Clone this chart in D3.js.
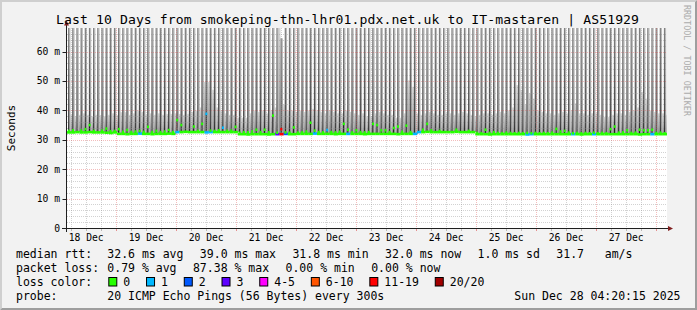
<!DOCTYPE html>
<html>
<head>
<meta charset="utf-8">
<script src="https://cdn.jsdelivr.net/npm/d3@7"></script>
<style>
  html, body { margin: 0; padding: 0; background: #f2f2f2; }
  svg { display: block; font-family: "DejaVu Sans Mono", monospace; }
</style>
</head>
<body>
<div id="chart"></div>
<script>
// ---- data (ms) ----
const title = "Last 10 Days from smokeping-thn-lhr01.pdx.net.uk to IT-mastaren | AS51929";
const dayLabels = ["18 Dec", "19 Dec", "20 Dec", "21 Dec", "22 Dec", "23 Dec", "24 Dec", "25 Dec", "26 Dec", "27 Dec"];
const yTicks = [0, 10, 20, 30, 40, 50, 60];

// one slot = 100 minutes, 144 slots over the 10 days
// median of the quiet samples (the green baseline)
const quietMed = [
  32.5, 32.5, 32.6, 32.5, 32.5, 32.6, 32.5, 32.5, 32.5, 32.4, 32.3, 32.5,
  32.0, 32.0, 31.9, 32.0, 32.0, 32.1, 32.0, 32.0, 31.9, 32.0, 32.0, 32.0, 32.1, 32.0,
  32.6, 32.6, 32.7, 32.6, 32.6, 32.6, 32.6, 32.5, 32.6, 32.6, 32.6, 32.6, 32.6, 32.6, 32.6,
  31.9, 31.9, 31.8, 31.9, 31.9, 31.9, 31.9, 31.8, 31.9, 31.9, 31.9, 32.0, 31.9, 31.9,
  32.0, 32.0, 32.0, 32.0, 32.1, 32.0, 32.0, 32.0, 32.0, 31.9, 32.0, 32.0, 32.0, 32.0, 32.0,
  32.0, 31.9, 32.0, 32.0, 32.0, 32.0, 32.0, 32.0, 32.0, 31.9, 32.0, 32.0, 32.0, 32.0,
  32.6, 32.6, 32.7, 32.6, 32.6, 32.6, 32.6, 32.6, 32.6, 32.7, 32.6, 32.6, 32.6, 32.6,
  31.9, 31.9, 31.9, 31.8, 31.9, 31.9, 31.9, 31.9, 31.9, 31.9, 31.9, 31.9, 31.8, 31.9, 31.9,
  31.9, 31.9, 31.9, 31.9, 31.9, 31.9, 31.9, 31.9, 31.9, 31.9, 31.8, 31.9, 31.9, 31.9, 31.9,
  31.9, 31.9, 31.9, 31.9, 31.9, 31.9, 31.9, 31.9, 31.9, 31.8, 31.9, 31.9, 31.9, 31.9, 31.9, 31.9
];
// upper edge of the light smoke of the quiet samples
const quietTop = [
  38.5, 38.0, 38.5, 39.0, 38.5, 38.0, 38.5, 38.4, 38.0, 38.5, 39.0, 38.4,
  39.4, 39.4, 38.5, 39.0, 40.0, 39.5, 38.5, 39.0, 38.5, 39.0, 38.5,
  38.8, 38.8, 39.0, 38.8, 38.5, 38.8, 39.5, 40.0, 41.0,
  49.7, 49.7, 47.0, 41.0, 40.0, 39.0, 38.5, 38.5, 37.5, 37.5, 37.5,
  39.0, 40.0, 39.5, 40.0, 39.0, 40.0, 41.0, 80.0, 42.0, 40.0, 40.0, 39.5,
  40.0, 39.5, 40.0, 40.5, 40.0, 39.5, 39.0, 40.0, 39.5, 39.0, 39.0, 40.0, 39.5, 39.0, 38.5, 39.0,
  38.0, 38.0, 39.0, 39.5, 39.0, 38.5, 38.5, 37.5, 37.5, 39.0, 50.2, 48.0,
  39.0, 38.5, 39.0, 39.5, 39.0, 38.5, 38.5, 39.0, 39.0, 38.5, 39.0, 39.5,
  39.0, 38.5, 38.0, 38.5, 39.0, 39.0, 38.5, 39.0, 39.5, 39.0, 40.0, 41.0,
  48.6, 47.0, 42.0, 45.8, 44.0,
  40.0, 39.5, 39.0, 39.0, 38.5, 39.0, 39.5, 39.0, 40.0, 42.4, 39.0,
  39.0, 38.5, 39.0, 39.0, 38.5, 37.8, 37.8,
  38.5, 39.0, 39.0, 38.5, 39.5, 40.0, 41.0, 46.3, 44.0,
  40.0, 39.5, 39.0, 39.0, 38.5
];
// median of the periodic spiky samples (green dots on the dark bars)
const spikeMed = [
  33.0, 33.2, 32.9, 33.1, 33.6, 35.0, 33.0, 32.8, 33.1, 33.8,
  32.9, 33.0, 33.6, 32.7, 33.3, 32.6, 32.8, 33.0, 32.7, 34.4,
  32.6, 33.0, 32.6, 32.8, 33.3, 32.6, 36.7, 35.0, 33.0, 32.9,
  34.5, 33.0, 35.4, 38.8, 33.1, 33.0, 33.2, 34.1, 33.0, 33.1,
  34.4, 32.4, 32.6, 32.5, 32.8, 33.4, 32.6, 33.4, 32.5, 38.2,
  32.4, 33.6, 32.5, 32.4, 34.2, 32.4, 32.5, 32.8, 35.8, 33.1,
  32.6, 32.5, 33.3, 32.6, 32.5, 32.7, 35.4, 33.4, 32.5, 33.2,
  32.6, 32.5, 32.6, 35.4, 35.0, 33.2, 33.2, 32.6, 34.0, 34.5,
  32.7, 34.8, 32.6, 32.2, 32.8, 33.4, 35.4, 33.2, 32.9, 33.0,
  32.9, 32.8, 32.9, 33.4, 32.8, 32.9, 33.0, 32.9, 32.3, 32.2,
  33.4, 32.3, 32.6, 32.3, 32.2, 32.4, 32.3, 32.2, 32.3, 32.2,
  32.3, 32.2, 32.3, 32.2, 32.3, 32.2, 32.4, 33.7, 32.8, 33.0,
  32.4, 32.2, 32.3, 32.2, 32.3, 32.2, 32.4, 32.2, 32.3, 32.2,
  33.6, 34.5, 32.4, 32.5, 33.2, 32.3, 32.4, 33.4, 33.2, 33.2,
  33.4, 32.3, 32.4, 32.2
];
// top of the dark smoke of the spiky samples (most run off the chart)
const spikeTop = [
  80, 80, 80, 80, 80, 80, 80, 80, 80, 80, 80, 80, 80, 80, 80, 80,
  80, 80, 80, 80, 80, 80, 80, 80, 80, 80, 80, 80, 80, 80, 80, 80,
  80, 80, 80, 80, 80, 80, 80, 80, 80, 80, 80, 80, 80, 80, 80, 80,
  80, 80, 80, 64.5, 80, 80, 80, 80, 80, 80, 80, 80, 80, 80, 80, 80,
  80, 80, 80, 80, 80, 80, 80, 80, 80, 80, 80, 80, 80, 80, 80, 80,
  80, 80, 80, 80, 80, 80, 80, 80, 80, 80, 80, 80, 80, 80, 80, 80,
  80, 80, 80, 80, 80, 80, 80, 80, 80, 80, 80, 80, 80, 80, 80, 80,
  80, 80, 80, 80, 80, 80, 80, 80, 80, 80, 80, 80, 80, 80, 80, 80,
  80, 80, 80, 80, 80, 80, 80, 80, 80, 80, 80, 80, 80, 80, 80, 80
];
// [slot, loss colour index]
const quietLoss = [[17, 1], [26, 1], [33, 1], [34, 1], [50, 3], [51, 6], [52, 2], [59, 1],
  [67, 1], [83, 1], [84, 1], [110, 1], [111, 1], [121, 1], [126, 1], [140, 1]];
const spikeLoss = [[33, 1], [37, 1], [51, 6], [62, 1]];

const lossLabels = ["0", "1", "2", "3", "4-5", "6-10", "11-19", "20/20"];
const lossColors = ["#26ff00", "#00b8ff", "#0059ff", "#5e00ff", "#ff00ff", "#ff5500", "#ff0000", "#a10000"];

const rttStats = ["32.6 ms avg", "39.0 ms max", "31.8 ms min", "32.0 ms now", "1.0 ms sd", "31.7   am/s"];
const lossStats = ["0.79 % avg", "87.38 % max", "0.00 % min", "0.00 % now"];
const probeText = "20 ICMP Echo Pings (56 Bytes) every 300s";
const stampText = "Sun Dec 28 04:20:15 2025";

// ---- layout ----
const width = 697;
const height = 310;
const plot = { left: 67, right: 667, top: 28, bottom: 228 };

const startT = Date.UTC(2025, 11, 18, 4, 20, 15);
const endT = Date.UTC(2025, 11, 28, 4, 20, 15);
const slotMs = 100 * 60 * 1000;

const x = d3.scaleUtc().domain([new Date(startT), new Date(endT)]).range([plot.left, plot.right]);
const y = d3.scaleLinear().domain([0, 68]).range([plot.bottom, plot.top]);
const xs = (i, f) => x(new Date(startT + (i + f) * slotMs));
const yc = v => y(Math.min(v, 68));

const qLoss = new Map(quietLoss);
const sLoss = new Map(spikeLoss);
const slots = d3.range(quietMed.length);

const svg = d3.select("#chart").append("svg").attr("width", width).attr("height", height);

// background + 3d shade
svg.append("rect").attr("width", width).attr("height", height).attr("fill", "#f2f2f2");
svg.append("polygon")
  .attr("points", `0,0 ${width},0 ${width - 2},2 2,2 2,${height - 2} 0,${height}`)
  .attr("fill", "#cfcfcf");
svg.append("polygon")
  .attr("points", `${width},0 ${width},${height} 0,${height} 2,${height - 2} ${width - 2},${height - 2} ${width - 2},2`)
  .attr("fill", "#9e9e9e");

svg.append("rect")
  .attr("x", plot.left).attr("y", plot.top)
  .attr("width", plot.right - plot.left).attr("height", plot.bottom - plot.top)
  .attr("fill", "#fff");

const defs = svg.append("defs");
defs.append("clipPath").attr("id", "clip")
  .append("rect")
  .attr("x", plot.left).attr("y", plot.top)
  .attr("width", plot.right - plot.left).attr("height", plot.bottom - plot.top);

function grad(id, stops) {
  const g = defs.append("linearGradient").attr("id", id)
    .attr("x1", 0).attr("y1", 1).attr("x2", 0).attr("y2", 0);
  stops.forEach(s => g.append("stop").attr("offset", s[0]).attr("stop-color", s[1]));
}
grad("spikeGrad", [[0, "#2a2a2a"], [0.1, "#444"], [0.5, "#5e5e5e"], [1, "#828282"]]);
grad("haloGrad", [[0, "#989898"], [1, "#bdbdbd"]]);
grad("quietGrad", [[0, "#8a8a8a"], [0.5, "#b2b2b2"], [1, "#d6d6d6"]]);

const smoke = svg.append("g").attr("clip-path", "url(#clip)");

// quiet samples smoke
smoke.selectAll(".q").data(slots).enter().append("rect")
  .attr("x", i => xs(i, 0.85))
  .attr("width", i => xs(i, 1.25) - xs(i, 0.85))
  .attr("y", i => yc(quietTop[i]))
  .attr("height", i => y(quietMed[i]) - yc(quietTop[i]))
  .attr("fill", "url(#quietGrad)");

// outer layers of the spiky samples
smoke.selectAll(".h").data(slots).enter().append("rect")
  .attr("x", i => xs(i, 0.55))
  .attr("width", i => xs(i, 0.82) - xs(i, 0.55))
  .attr("y", i => yc(spikeTop[i]))
  .attr("height", i => y(quietMed[i]) - yc(spikeTop[i]))
  .attr("fill", "url(#haloGrad)");

// inner layers of the spiky samples
smoke.selectAll(".s").data(slots).enter().append("rect")
  .attr("x", i => xs(i, 0.25))
  .attr("width", i => xs(i, 0.55) - xs(i, 0.25))
  .attr("y", i => yc(spikeTop[i]))
  .attr("height", i => y(spikeMed[i]) - yc(spikeTop[i]))
  .attr("fill", "url(#spikeGrad)");

smoke.selectAll(".st").data(slots).enter().append("rect")
  .attr("x", i => xs(i, 0.25))
  .attr("width", i => xs(i, 0.55) - xs(i, 0.25))
  .attr("y", i => y(spikeMed[i]))
  .attr("height", i => Math.max(0, y(quietMed[i]) - y(spikeMed[i])))
  .attr("fill", "#1e1e1e");

// grid
const grid = svg.append("g").attr("stroke-dasharray", "1,1").attr("stroke-width", 1);
const minorY = d3.range(2, 68, 2).filter(v => v % 10 !== 0);
const majorY = d3.range(10, 68, 10);
const dayTicks = d3.utcDay.range(new Date(startT), new Date(endT));
const hourTicks = d3.utcHour.every(6).range(new Date(startT), new Date(endT))
  .filter(d => d.getUTCHours() !== 0);
const minorCol = "rgba(143,143,143,0.4)";
const majorCol = "rgba(222,79,79,0.38)";

grid.selectAll(".mny").data(minorY).enter().append("line")
  .attr("x1", plot.left).attr("x2", plot.right)
  .attr("y1", v => Math.round(y(v)) + 0.5).attr("y2", v => Math.round(y(v)) + 0.5)
  .attr("stroke", minorCol);
grid.selectAll(".mnx").data(hourTicks).enter().append("line")
  .attr("y1", plot.top).attr("y2", plot.bottom)
  .attr("x1", d => Math.round(x(d)) + 0.5).attr("x2", d => Math.round(x(d)) + 0.5)
  .attr("stroke", minorCol);
grid.selectAll(".mjy").data(majorY).enter().append("line")
  .attr("x1", plot.left).attr("x2", plot.right)
  .attr("y1", v => Math.round(y(v)) + 0.5).attr("y2", v => Math.round(y(v)) + 0.5)
  .attr("stroke", majorCol);
grid.selectAll(".mjx").data(dayTicks).enter().append("line")
  .attr("y1", plot.top).attr("y2", plot.bottom)
  .attr("x1", d => Math.round(x(d)) + 0.5).attr("x2", d => Math.round(x(d)) + 0.5)
  .attr("stroke", majorCol);

// median line, coloured by loss
const med = svg.append("g").attr("clip-path", "url(#clip)");
med.selectAll(".mq").data(slots).enter().append("rect")
  .attr("x", i => xs(i, 0))
  .attr("width", i => xs(i, 1.02) - xs(i, 0))
  .attr("y", i => y(quietMed[i]) - 1.3)
  .attr("height", 2.6)
  .attr("fill", i => lossColors[qLoss.get(i) || 0]);
med.selectAll(".ms").data(slots.filter(i => spikeMed[i] - quietMed[i] > 0.3)).enter().append("rect")
  .attr("x", i => xs(i, 0.2))
  .attr("width", i => xs(i, 0.68) - xs(i, 0.2))
  .attr("y", i => y(spikeMed[i]) - 1.3)
  .attr("height", 2.6)
  .attr("fill", i => lossColors[sLoss.get(i) || 0]);

// axes
const axis = svg.append("g");
axis.selectAll(".ty").data(majorY.concat([0])).enter().append("line")
  .attr("x1", 62.5).attr("x2", 66.5)
  .attr("y1", v => Math.round(y(v)) + 0.5).attr("y2", v => Math.round(y(v)) + 0.5)
  .attr("stroke", "#1f1f1f");
axis.selectAll(".tx").data(hourTicks).enter().append("line")
  .attr("y1", 228).attr("y2", 231)
  .attr("x1", d => Math.round(x(d)) + 0.5).attr("x2", d => Math.round(x(d)) + 0.5)
  .attr("stroke", "rgba(143,143,143,0.6)");
axis.selectAll(".tdx").data(dayTicks).enter().append("line")
  .attr("y1", 228).attr("y2", 231)
  .attr("x1", d => Math.round(x(d)) + 0.5).attr("x2", d => Math.round(x(d)) + 0.5)
  .attr("stroke", "rgba(222,79,79,0.6)");

axis.append("line").attr("x1", 62).attr("x2", 669).attr("y1", 228.5).attr("y2", 228.5)
  .attr("stroke", "#1f1f1f");
axis.append("line").attr("x1", 66.5).attr("x2", 66.5).attr("y1", 232).attr("y2", 24)
  .attr("stroke", "#1f1f1f");
axis.append("polygon").attr("points", "668,226 668,231 673,228.5").attr("fill", "#801f1f");
axis.append("polygon").attr("points", "64,25.5 69,25.5 66.5,20.5").attr("fill", "#801f1f");

// tick labels
svg.selectAll(".yl").data(yTicks).enter().append("text")
  .attr("x", 60).attr("y", v => y(v) + 3.5)
  .attr("text-anchor", "end").attr("font-size", "9.7px").attr("fill", "#000")
  .text(v => v === 0 ? "0" : v + " m");
svg.selectAll(".xl").data(dayLabels).enter().append("text")
  .attr("x", (d, i) => x(d3.utcHour.offset(dayTicks[0], -12 + 24 * i)))
  .attr("y", 241.3)
  .attr("text-anchor", "middle").attr("font-size", "9.7px").attr("fill", "#000")
  .text(d => d);

svg.append("text").attr("transform", "translate(15,128) rotate(-90)")
  .attr("text-anchor", "middle").attr("font-size", "11px").text("Seconds");

svg.append("text").attr("x", 56).attr("y", 24)
  .attr("textLength", 583).attr("lengthAdjust", "spacing")
  .attr("font-size", "13.1px").text(title);

svg.append("text").attr("transform", "translate(684,5) rotate(90)")
  .attr("font-size", "8.4px").attr("fill", "#ababab").text("RRDTOOL / TOBI OETIKER");

// legend
const fs = "11.5px";
const rowY = [258.3, 272.1, 286, 299.8];
const valX = 107.3;
const gap = 16.4;

function row(label, items, yy) {
  svg.append("text").attr("x", 16).attr("y", yy).attr("font-size", fs).text(label);
  let cx = valX;
  items.forEach(t => {
    const el = svg.append("text").attr("x", cx).attr("y", yy).attr("font-size", fs)
      .attr("xml:space", "preserve").style("white-space", "pre").text(t);
    cx += el.node().getComputedTextLength() + gap;
  });
}
row("median rtt:", rttStats, rowY[0]);
row("packet loss:", lossStats, rowY[1]);

svg.append("text").attr("x", 16).attr("y", rowY[2]).attr("font-size", fs).text("loss color:");
let lx = 108.3;
lossLabels.forEach((lab, i) => {
  svg.append("rect").attr("x", lx + 0.5).attr("y", 277.5).attr("width", 8).attr("height", 8.5)
    .attr("fill", lossColors[i]).attr("stroke", "#000").attr("stroke-width", 1);
  const t = svg.append("text").attr("x", lx + 15).attr("y", rowY[2]).attr("font-size", fs).text(lab);
  lx += 15 + t.node().getComputedTextLength() + 15.8;
});

svg.append("text").attr("x", 16).attr("y", rowY[3]).attr("font-size", fs).text("probe:");
svg.append("text").attr("x", valX).attr("y", rowY[3]).attr("font-size", fs).text(probeText);
svg.append("text").attr("x", 680.5).attr("y", rowY[3]).attr("text-anchor", "end")
  .attr("font-size", fs).text(stampText);
</script>
</body>
</html>
